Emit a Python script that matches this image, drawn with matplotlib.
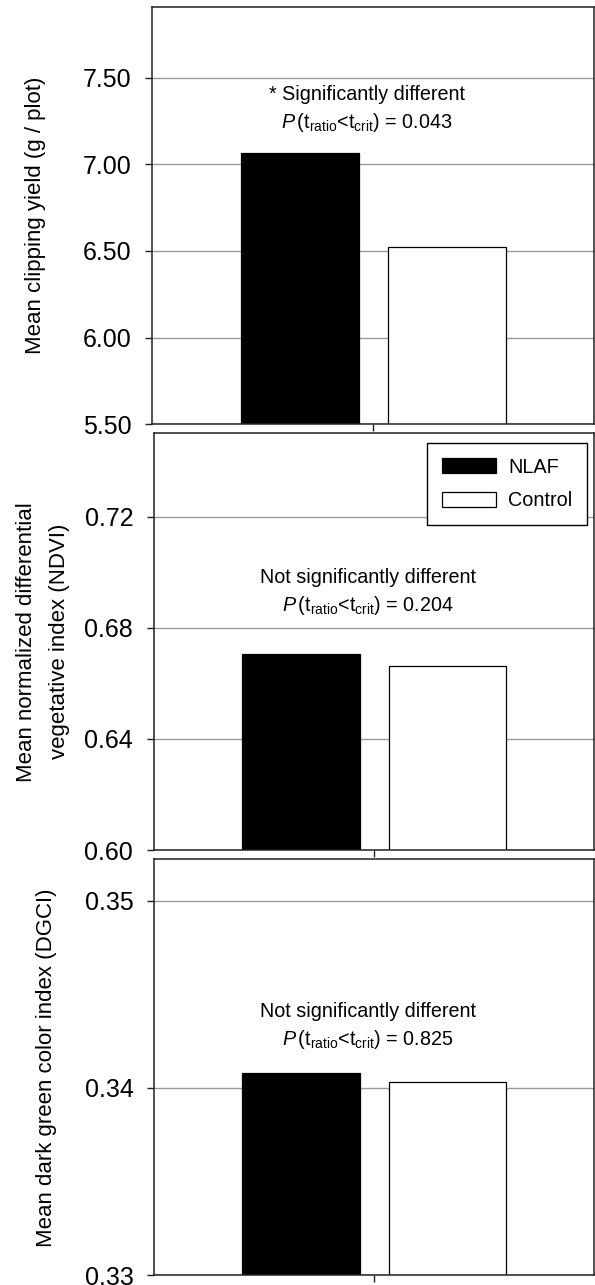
import matplotlib
matplotlib.use("Agg")
import matplotlib.pyplot as plt
from matplotlib.patches import Patch

FONT = ['Liberation Sans Narrow', 'Liberation Sans', 'DejaVu Sans']
plt.rcParams['font.family'] = FONT
plt.rcParams['mathtext.fontset'] = 'custom'
plt.rcParams['mathtext.rm'] = 'Liberation Sans'
plt.rcParams['mathtext.it'] = 'Liberation Sans:italic'

groups = ['NLAF', 'Control']
clipping = [7.065, 6.524]
ndvi = [0.6705, 0.6661]
dgci = [0.3408, 0.3403]

ylabels = ['Mean clipping yield (g / plot)',
           'Mean normalized differential\nvegetative index (NDVI)',
           'Mean dark green color index (DGCI)']
ylims = [(5.5, 7.905), (0.60, 0.750), (0.33, 0.3522)]
yticks = [[5.5, 6.0, 6.5, 7.0, 7.5], [0.60, 0.64, 0.68, 0.72], [0.33, 0.34, 0.35]]
ytick_labels = [['5.50', '6.00', '6.50', '7.00', '7.50'],
                ['0.60', '0.64', '0.68', '0.72'],
                ['0.33', '0.34', '0.35']]
sig_text = ['* Significantly different', 'Not significantly different', 'Not significantly different']
p_values = ['0.043', '0.204', '0.825']
text_y1 = [7.40, 0.6980, 0.3441]
text_y2 = [7.24, 0.6880, 0.3426]
label_x = [35, 43, 47]

W, H = 595, 1285
fig = plt.figure(figsize=(W / 100, H / 100), dpi=100)

# axes pixel boxes (left, top, right, bottom)
boxes = [(152.3, 7.3, 594.3, 424.3), (154, 433.3, 594.3, 850), (154.3, 859.3, 594.3, 1275.3)]
data = [clipping, ndvi, dgci]
colors = ['black', 'white']
xpos = [-0.333, 0.333]

for i, (l, t, r, b) in enumerate(boxes):
    ax = fig.add_axes([l / W, 1 - b / H, (r - l) / W, (b - t) / H])
    ax.set_xlim(-1, 1)
    ax.set_ylim(*ylims[i])
    ax.set_axisbelow(True)
    ax.yaxis.grid(True, color='#999999', linewidth=1.0)
    ax.bar(xpos, data[i], width=0.535, color=colors, edgecolor='black', linewidth=0.9,
           bottom=0, zorder=2)
    ax.set_ylim(*ylims[i])
    ax.set_yticks(yticks[i])
    ax.set_yticklabels(ytick_labels[i])
    ax.set_xticks([0])
    ax.set_xticklabels([''])
    ax.tick_params(axis='y', direction='out', length=5, width=1, pad=10, labelsize=18, color='#222222')
    ax.tick_params(axis='x', direction='out', length=5, width=1, color='#222222')
    for s in ax.spines.values():
        s.set_color('#222222')
        s.set_linewidth(1.1)
    axw = r - l
    ax.text((label_x[i] - l) / axw, 0.5, ylabels[i], transform=ax.transAxes, rotation=90,
            ha='center', va='center', fontsize=16, multialignment='center', linespacing=1.7)
    ax.text(-0.028, text_y1[i], sig_text[i], ha='center', va='center', fontsize=14.2)
    ax.text(-0.028, text_y2[i],
            r'$\mathit{P}\,(\mathrm{t}_{\mathrm{ratio}}$<$\mathrm{t}_{\mathrm{crit}})$ = ' + p_values[i],
            ha='center', va='center', fontsize=14.2)
    if i == 1:
        handles = [Patch(facecolor=c, edgecolor='black', linewidth=0.9) for c in colors]
        leg = ax.legend(handles, groups, loc='upper right', bbox_to_anchor=(0.9827, 0.976),
                        borderaxespad=0, fontsize=14.3, frameon=True, fancybox=False,
                        handlelength=2.75, handleheight=0.8, handletextpad=0.6,
                        labelspacing=0.75, borderpad=0.72)
        leg.get_frame().set_edgecolor('black')
        leg.get_frame().set_linewidth(1.0)
        leg.get_frame().set_alpha(1)

fig.savefig('out.png', dpi=100)
